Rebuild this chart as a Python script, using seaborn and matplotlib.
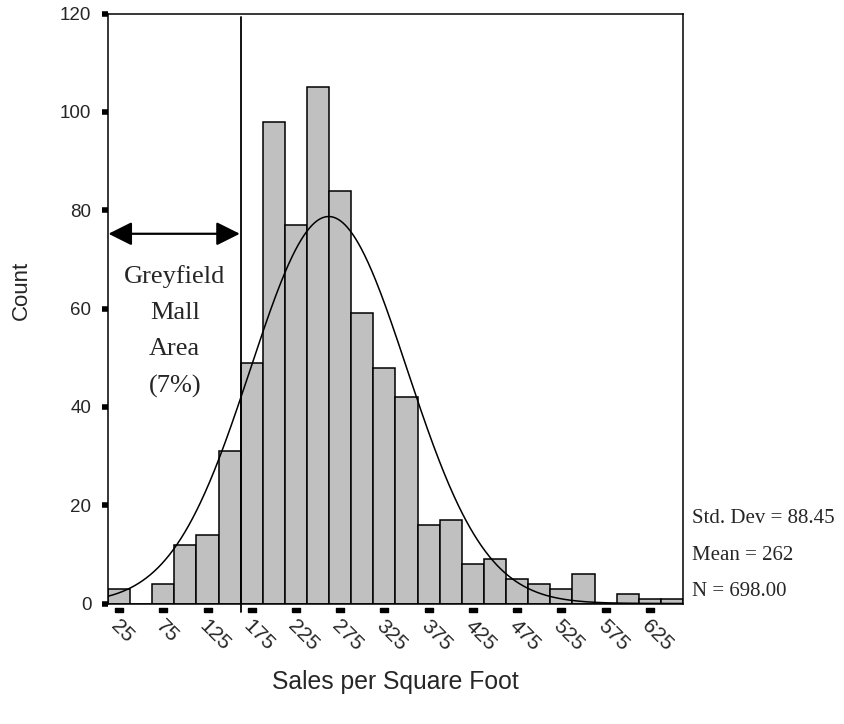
import numpy as np
import pandas as pd
import matplotlib
matplotlib.use("Agg")
import matplotlib.pyplot as plt
import matplotlib.transforms as mtransforms
import seaborn as sns

# ---- data ----
bin_centers = [25, 50, 75, 100, 125, 150, 175, 200, 225, 250, 275, 300, 325,
               350, 375, 400, 425, 450, 475, 500, 525, 550, 575, 600, 625, 650]
counts = [3, 0, 4, 12, 14, 31, 49, 98, 77, 105, 84, 59, 48,
          42, 16, 17, 8, 9, 5, 4, 3, 6, 0, 2, 1, 1]
bin_width = 25
x_ticks = [25, 75, 125, 175, 225, 275, 325, 375, 425, 475, 525, 575, 625]
y_ticks = [0, 20, 40, 60, 80, 100, 120]
std_dev = 88.45
mean = 262
n_total = 698.00
cutoff = 162.5
stats_lines = ["Std. Dev = 88.45", "Mean = 262", "N = 698.00"]
annotation = "Greyfield\nMall\nArea\n(7%)"

df = pd.DataFrame({"sales": bin_centers, "count": counts})
lo = bin_centers[0] - bin_width / 2
hi = bin_centers[-1] + bin_width / 2

sns.set_style("white")
plt.rcParams["font.family"] = ["Liberation Sans", "DejaVu Sans"]

fig = plt.figure(figsize=(8.45, 7.24), dpi=100)
ax = fig.add_axes([108 / 845, 1 - 603.5 / 724, 575 / 845, 590 / 724])

sns.histplot(data=df, x="sales", weights="count", binwidth=bin_width,
             binrange=(lo, hi), ax=ax,
             color="#c0c0c0", edgecolor="black", linewidth=1.1, alpha=1)

# fitted normal curve
xs = np.linspace(lo, hi, 600)
pdf = np.exp(-0.5 * ((xs - mean) / std_dev) ** 2) / (std_dev * np.sqrt(2 * np.pi))
ax.plot(xs, pdf * n_total * bin_width, color="black", lw=1.1)

ax.set_xlim(lo, hi)
ax.set_ylim(0, 120)

for sp in ax.spines.values():
    sp.set_visible(True)
    sp.set_color("black")
    sp.set_linewidth(1.1)

# y ticks: small black squares
ax.set_yticks(y_ticks)
ax.tick_params(axis="y", direction="out", length=4, width=4, color="black",
               labelsize=13.5, pad=8, left=True)
# x ticks: labels rotated, marks drawn as detached rectangles
ax.set_xticks(x_ticks)
ax.set_xticklabels([str(t) for t in x_ticks], rotation=-45, ha="left",
                   va="center", rotation_mode="anchor", fontsize=15)
ax.tick_params(axis="x", length=0, pad=14, bottom=True)
shift = mtransforms.ScaledTranslation(-5 / 100, 0, fig.dpi_scale_trans)
for lab in ax.get_xticklabels():
    lab.set_transform(lab.get_transform() + shift)
rect = [(-1, -0.5), (1, -0.5), (1, 0.5), (-1, 0.5), (-1, -0.5)]
ax.scatter(x_ticks, [-0.0105] * len(x_ticks), marker=rect, s=30, color="black",
           transform=ax.get_xaxis_transform(), clip_on=False, zorder=5)

ax.set_xlabel("Sales per Square Foot", fontsize=17.8, va="center")
ax.xaxis.set_label_coords(0.499, -0.133)
ax.set_ylabel("Count", fontsize=16, va="center", ha="center")
ax.yaxis.set_label_coords(-0.150, 0.53)

# cutoff line and annotation
ax.plot([cutoff, cutoff], [-1.8, 119.3], color="black", lw=1.3,
        clip_on=False, zorder=4)
ax.annotate("", xy=(lo + 0.5, 75.2), xytext=(cutoff - 1, 75.2),
            arrowprops=dict(arrowstyle="<|-|>,head_length=0.4,head_width=0.2",
                            mutation_scale=36, lw=1.6, color="black",
                            shrinkA=0, shrinkB=0))
ax.text(88, 55.3, annotation, ha="center", va="center", fontsize=19,
        family="Liberation Serif", linespacing=1.82)

# statistics box on the right
for line, yy in zip(stats_lines, [0.1447, 0.0819, 0.0209]):
    ax.text(1.0157, yy, line, transform=ax.transAxes, ha="left", va="center",
            fontsize=15, family="Liberation Serif")

fig.savefig("out.png", dpi=100)
